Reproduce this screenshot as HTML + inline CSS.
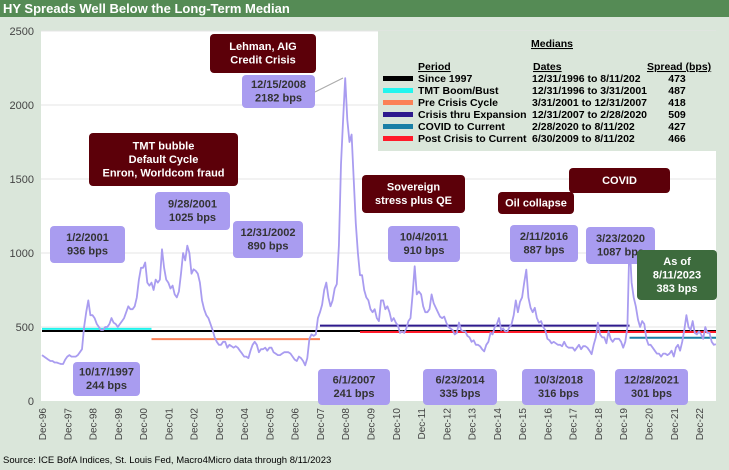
<!DOCTYPE html>
<html><head><meta charset="utf-8">
<style>
html,body{margin:0;padding:0;background:#dae6da;}
svg{display:block;font-family:"Liberation Sans",Arial,sans-serif;}
</style></head>
<body>
<svg id="chart" width="729" height="470" viewBox="0 0 729 470">
<rect x="0" y="0" width="729" height="470" fill="#dae6da"/>
<rect x="0" y="0" width="729" height="17" fill="#558b55"/>
<text x="3" y="13" font-size="13" font-weight="bold" fill="#fff">HY Spreads Well Below the Long-Term Median</text>
<rect x="41" y="31" width="675" height="370" fill="#fff"/>
<g id="grid"></g>
<g id="yticks"></g>
<g id="xticks"></g>
<g id="medians"></g>
<g id="series"></g>
<g id="notes"></g>
<text x="3" y="463" font-size="9.5" fill="#000">Source: ICE BofA Indices, St. Louis Fed, Macro4Micro     data through 8/11/2023</text>
</svg>
<script>
const yTicks=[0,500,1000,1500,2000,2500];
const xTickLabels=["Dec-96","Dec-97","Dec-98","Dec-99","Dec-00","Dec-01","Dec-02","Dec-03","Dec-04","Dec-05","Dec-06","Dec-07","Dec-08","Dec-09","Dec-10","Dec-11","Dec-12","Dec-13","Dec-14","Dec-15","Dec-16","Dec-17","Dec-18","Dec-19","Dec-20","Dec-21","Dec-22"];
const startYear=1996.917;
// monthly spreads (bps) starting Dec 1996
const spreads=[310,
300,290,280,270,270,260,260,255,250,250,280,300,
310,300,300,300,310,330,350,500,600,680,580,580,
560,520,500,480,480,500,500,520,560,530,520,500,
520,540,560,600,640,620,620,640,700,820,900,900,
936,800,780,800,750,820,800,820,1025,900,820,800,
760,780,720,700,740,860,1000,950,1050,1000,860,890,
880,860,800,680,620,580,560,520,480,430,400,380,
380,400,400,360,380,370,360,370,360,340,320,300,
300,290,340,380,400,380,330,350,350,360,340,360,
360,330,320,310,310,320,330,330,330,320,300,280,
270,300,290,270,241,290,420,450,440,450,560,600,
650,750,800,700,640,680,760,790,1050,1600,1900,2182,
1900,1750,1800,1500,1200,1000,850,850,750,700,680,620,
600,620,560,540,680,680,620,640,600,540,560,530,
510,460,470,460,490,540,560,720,910,720,740,720,
640,600,600,620,720,660,630,600,570,560,570,530,
500,490,480,450,460,530,480,470,470,440,430,400,
410,380,380,370,350,335,380,400,460,450,500,520,
560,480,490,470,470,500,520,580,680,600,670,700,
800,887,700,630,600,630,560,530,540,500,480,420,
410,390,400,390,380,380,370,400,370,360,360,360,
340,360,380,350,370,370,360,340,316,380,430,530,
450,430,430,390,470,420,400,420,420,420,400,360,
400,500,1087,800,700,640,550,500,540,520,420,380,
380,360,340,320,320,300,320,320,310,320,340,301,
360,380,340,400,480,580,500,480,540,460,450,470,
450,420,500,460,460,400,380,383];
const medianLabels=["Since 1997","TMT Boom/Bust","Pre Crisis Cycle","Crisis thru Expansion","COVID to Current","Post Crisis to Current"];
const medianDates=["12/31/1996 to 8/11/202","12/31/1996 to 3/31/2001","3/31/2001 to 12/31/2007","12/31/2007 to 2/28/2020","2/28/2020 to 8/11/202","6/30/2009 to 8/11/202"];
const medianValues=[473,487,418,509,427,466];
const medianStart=[1996.917,1996.917,2001.25,2007.917,2020.167,2009.5];
const medianEnd=[2023.6,2001.25,2007.917,2020.167,2023.6,2023.6];
const medianColors=["#000000","#22f5ee","#fb8157","#2e1a8e","#1a7fa6","#ff1a2a"];

const NS="http://www.w3.org/2000/svg";
const X0=42,PX=25.27,Y0=401,PY=370/2500;
function xs(t){return X0+(t-startYear)*PX;}
function ys(v){return Y0-v*PY;}
function mk(tag,attrs,parent,text){const e=document.createElementNS(NS,tag);for(const k in attrs)e.setAttribute(k,attrs[k]);if(text!==undefined)e.textContent=text;parent.appendChild(e);return e;}

const grid=document.getElementById('grid'),yt=document.getElementById('yticks');
yTicks.forEach(v=>{
  if(v>0){const l=mk('line',{x1:41,x2:716,y1:ys(v),y2:ys(v),stroke:'#e4e4e4','stroke-width':1},grid);
  
  }
  const t=mk('text',{x:34,y:ys(v)+4,'font-size':11,fill:'#444','text-anchor':'end'},yt,String(v));
  
  
});
const xt=document.getElementById('xticks');
xTickLabels.forEach((s,i)=>{
  const x=xs(startYear+i);
  const t=mk('text',{x:0,y:0,'font-size':10,fill:'#444','text-anchor':'end',transform:`translate(${x+4},408) rotate(-90)`},xt,s);
  
  
});
const med=document.getElementById('medians');
medianValues.forEach((v,i)=>{
  const l=mk('line',{x1:xs(medianStart[i]),x2:Math.min(716,xs(medianEnd[i])),y1:ys(v),y2:ys(v),stroke:medianColors[i],'stroke-width':2},med);
  
  
});
const ser=document.getElementById('series');
const pts=spreads.map((v,i)=>xs(startYear+i/12).toFixed(1)+','+ys(v).toFixed(1)).join(' ');
const pl=mk('polyline',{points:pts,fill:'none',stroke:'#a99cf0','stroke-width':1.8,'stroke-linejoin':'round'},ser);



// legend
const notes=document.getElementById('notes');
const lg=mk('g',{},notes);


mk('rect',{x:378,y:31,width:351,height:120,fill:'#dae6da'},lg);
mk('text',{x:552,y:47,'font-size':10.5,'font-weight':'bold','text-anchor':'middle','text-decoration':'underline'},lg,'Medians');
mk('text',{x:418,y:70,'font-size':10.5,'font-weight':'bold','text-decoration':'underline'},lg,'Period');
mk('text',{x:533,y:70,'font-size':10.5,'font-weight':'bold','text-decoration':'underline'},lg,'Dates');
mk('text',{x:647,y:70,'font-size':10.5,'font-weight':'bold','text-decoration':'underline'},lg,'Spread (bps)');
medianLabels.forEach((s,i)=>{
  const y=82+i*12;
  const sw=mk('rect',{x:383,y:y-6,width:30,height:5,fill:medianColors[i]},lg);
  
  
  mk('text',{x:418,y:y,'font-size':10.5,'font-weight':'bold'},lg,s);
  mk('text',{x:532,y:y,'font-size':10.5,'font-weight':'bold'},lg,medianDates[i]);
  mk('text',{x:677,y:y,'font-size':10.5,'font-weight':'bold','text-anchor':'middle'},lg,String(medianValues[i]));
});

// annotation boxes
function box(x,y,w,h,fill,lines,name,color,fs){
  const g=mk('g',{},notes);
  
  
  mk('rect',{x:x,y:y,width:w,height:h,rx:4,fill:fill},g);
  const lh=fs+2.5, top=y+h/2-(lines.length*lh)/2+fs-1;
  lines.forEach((s,i)=>mk('text',{x:x+w/2,y:top+i*lh,'font-size':fs,'font-weight':'bold',fill:color,'text-anchor':'middle'},g,s));
}
const DR='#5c0009',LV='#a99cf0',TX='#333';
function lead(x1,y1,x2,y2){const l=mk('line',{x1,y1,x2,y2,stroke:'#aaa','stroke-width':1},notes);}
lead(315,92,343,78);
box(210,34,106,39,DR,['Lehman, AIG','Credit Crisis'],'lehman-note','#fff',11);
box(242,75,73,33,LV,['12/15/2008','2182 bps'],'peak-2008-label',TX,11);
box(89,133,149,53,DR,['TMT bubble','Default Cycle','Enron, Worldcom fraud'],'tmt-note','#fff',11);
box(50,226,75,37,LV,['1/2/2001','936 bps'],'label-2001-jan',TX,11);
box(155,192,75,38,LV,['9/28/2001','1025 bps'],'label-2001-sep',TX,11);
box(233,221,70,37,LV,['12/31/2002','890 bps'],'label-2002',TX,11);
box(362,175,103,38,DR,['Sovereign','stress plus QE'],'sovereign-note','#fff',11);
box(388,226,72,36,LV,['10/4/2011','910 bps'],'label-2011',TX,11);
box(498,192,76,22,DR,['Oil collapse'],'oil-note','#fff',11);
box(510,225,68,37,LV,['2/11/2016','887 bps'],'label-2016',TX,11);
box(569,168,101,25,DR,['COVID'],'covid-note','#fff',11);
box(586,227,69,37,LV,['3/23/2020','1087 bps'],'label-2020',TX,11);
box(637,250,80,50,'#3d6b3d',['As of','8/11/2023','383 bps'],'current-label','#fff',11);
box(73,362,67,34,LV,['10/17/1997','244 bps'],'label-1997',TX,11);
box(318,369,72,36,LV,['6/1/2007','241 bps'],'label-2007',TX,11);
box(423,369,74,36,LV,['6/23/2014','335 bps'],'label-2014',TX,11);
box(522,369,73,36,LV,['10/3/2018','316 bps'],'label-2018',TX,11);
box(615,369,73,36,LV,['12/28/2021','301 bps'],'label-2021',TX,11);
</script>
</body></html>
